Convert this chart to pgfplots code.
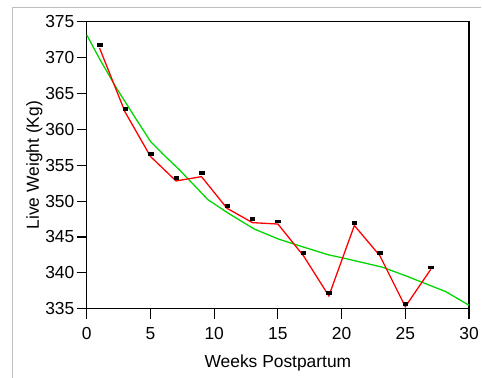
\documentclass[border=0pt]{standalone}
\usepackage{pgfplots}
\pgfplotsset{compat=1.18}
\usepackage{fontspec}
\setmainfont{Liberation Sans}
\definecolor{redl}{RGB}{255,0,0}
\definecolor{greenl}{RGB}{0,215,0}
\definecolor{frame}{RGB}{190,190,190}
\pgfplotstableread{
x y
1 371.7
3 362.8
5 356.6
7 353.2
9 353.9
11 349.4
13 347.5
15 347.2
17 342.8
19 337.2
21 347.0
23 342.8
25 335.7
27 340.8
}\marks
\pgfplotstableread{
x y
1 371.3
3 362.4
5 356.2
7 352.8
9 353.4
11 349.0
13 347.0
15 346.8
17 342.4
19 336.8
21 346.6
23 342.4
25 335.3
27 340.5
}\redline
\pgfplotstableread{
x y
0 373.1
1 369.8
2.3 365.8
3.8 361.6
5 358.3
6 356.5
7.3 354.3
9.5 350.2
11.2 348.2
13.15 346.1
15.06 344.7
17 343.6
19 342.5
20.07 342.1
23.2 340.8
25.03 339.6
28.17 337.4
30 335.5
}\greenline
\begin{document}
\begin{tikzpicture}
\begin{axis}[
  name=ax,
  scale only axis,
  width=383bp, height=288bp,
  xmin=0, xmax=30, ymin=335, ymax=375,
  xtick={0,5,...,30}, ytick={335,340,...,375},
  xtick pos=bottom, ytick pos=left,
  tick align=outside,
  major tick length=10bp,
  axis line style={line width=1.3pt},
  every tick/.style={black, line width=1.1pt},
  tick label style={font=\fontsize{17.5}{20}\selectfont},
  /pgf/number format/assume math mode=true,
  xticklabel style={yshift=-5bp},
  yticklabel style={xshift=1bp},
  xlabel={Weeks Postpartum},
  ylabel={Live Weight (Kg)},
  label style={font=\fontsize{17.5}{20}\selectfont},
  xlabel style={yshift=-8bp},
  ylabel style={yshift=-4bp},
  clip=false,
]
\addplot[greenl, line width=1.3pt] table {\greenline};
\addplot[redl, line width=1.3pt] table {\redline};
\addplot[only marks, mark=square*, mark size=1.4bp, mark options={black, xscale=1.6, yscale=1.05}] table {\marks};
\end{axis}
\useasboundingbox ([shift={(-87bp,-69bp)}]ax.south west) rectangle ([shift={(12bp,21.5bp)}]ax.north east);
\draw[frame, line width=1pt] ([shift={(-74bp,-69bp)}]ax.south west) -- ([shift={(-74bp,13.5bp)}]ax.north west) -- ([shift={(12bp,13.5bp)}]ax.north east);
\end{tikzpicture}
\end{document}
